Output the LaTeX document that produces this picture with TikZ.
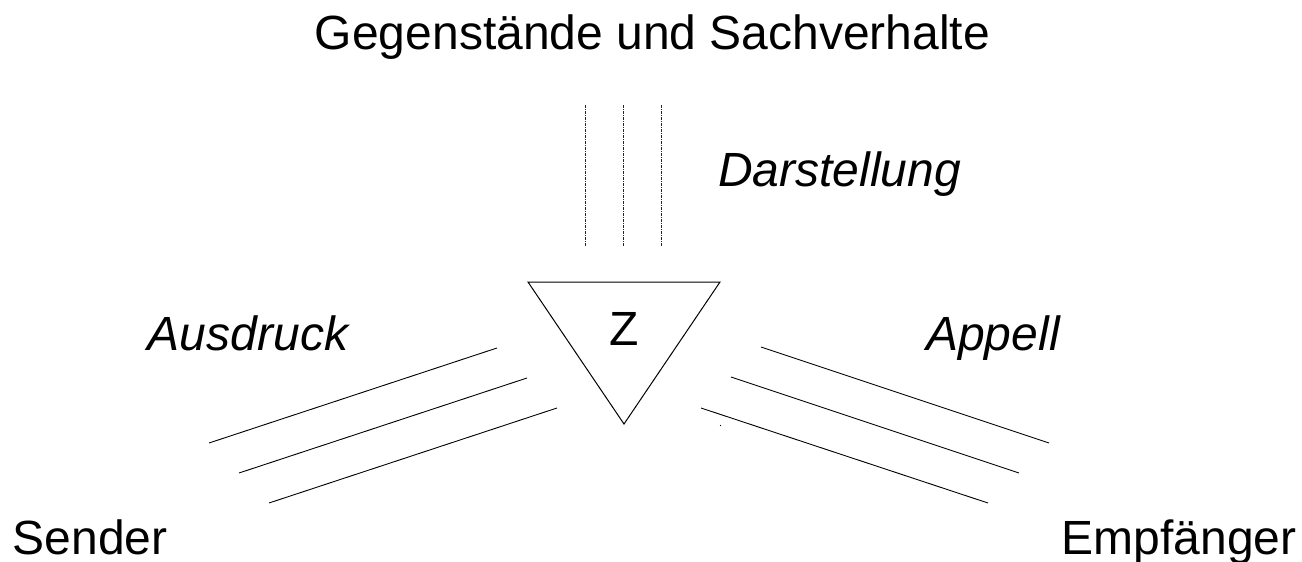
\documentclass[tikz,border=0pt]{standalone}
\usepackage{fontspec}
\setmainfont{Liberation Sans}
\begin{document}
\begin{tikzpicture}[x=1pt,y=-1pt,
  lbl/.style={inner sep=0pt,anchor=base,font=\fontsize{48}{58}\selectfont},
  ilbl/.style={lbl,font=\fontsize{48}{58}\selectfont\itshape},
  ray/.style={line width=0.9pt,black},
  dray/.style={line width=0.7pt,black!85,dash pattern=on 3pt off 1pt on 1pt off 1pt},
  tri/.style={line width=1pt,black}]
\useasboundingbox (0,0) rectangle (1302,562);
% labels
\node[lbl] (gs) at (652.5,49) {Gegenstände und Sachverhalte};
\node[lbl] (sender) at (90,554) {Sender};
\node[lbl] (empf) at (1179,554) {Empfänger};
\node[ilbl] (dar) at (839.5,186) {Darstellung};
\node[ilbl] (aus) at (248,350) {Ausdruck};
\node[ilbl] (app) at (993,350) {Appell};
% triangle
\coordinate (tl) at (528,282);
\coordinate (tr) at (720,282);
\coordinate (tb) at (624,424);
\draw[tri] (tl) -- (tr) -- (tb) -- cycle;
\node[lbl] (z) at (624.5,345) {Z};
% dashed (Darstellung)
\foreach \i/\x in {1/585,2/623,3/661}{
  \coordinate (d\i a) at (\x,105);
  \coordinate (d\i b) at (\x,246);
  \draw[dray] (d\i a) -- (d\i b);
}
% Ausdruck lines
\coordinate (l1a) at (209,443); \coordinate (l1b) at (497,348);
\coordinate (l2a) at (239,473); \coordinate (l2b) at (527,378);
\coordinate (l3a) at (269,503); \coordinate (l3b) at (557,408);
\draw[ray] (l1a) -- (l1b);
\draw[ray] (l2a) -- (l2b);
\draw[ray] (l3a) -- (l3b);
% Appell lines
\coordinate (r1a) at (761,347); \coordinate (r1b) at (1049,443);
\coordinate (r2a) at (731,377); \coordinate (r2b) at (1019,473);
\coordinate (r3a) at (701,408); \coordinate (r3b) at (988,503);
\draw[ray] (r1a) -- (r1b);
\draw[ray] (r2a) -- (r2b);
\draw[ray] (r3a) -- (r3b);
% tiny dot
\coordinate (dot) at (720.5,425.5);
\fill[black] (dot) circle (0.6pt);
\end{tikzpicture}
\end{document}
